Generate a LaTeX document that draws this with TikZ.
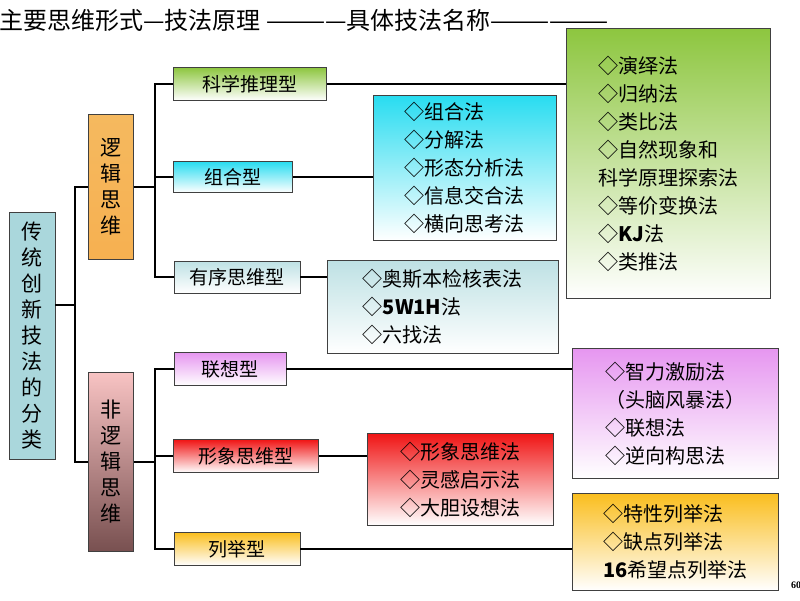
\documentclass[tikz,border=0pt]{standalone}
\usepackage{fontspec}
\setmainfont{Liberation Serif}
\newfontfamily\cjk{Noto Sans CJK SC}
\definecolor{leaf}{RGB}{141,198,63}
\definecolor{aqua}{RGB}{40,220,240}
\definecolor{mist}{RGB}{190,225,228}
\definecolor{lilac}{RGB}{230,150,240}
\definecolor{scarlet}{RGB}{240,20,20}
\definecolor{amber}{RGB}{250,190,30}
\definecolor{apricot}{RGB}{245,185,95}
\definecolor{rose}{RGB}{248,195,195}
\definecolor{mocha}{RGB}{120,80,80}
\definecolor{tealgray}{RGB}{170,215,220}
\tikzset{
  box/.style={draw=black!75, thick, inner sep=2pt, font=\cjk\fontsize{19}{24}\selectfont},
  vbox/.style={box, align=center, font=\cjk\fontsize{21}{26}\selectfont},
  list/.style={box, align=left, anchor=north west, inner sep=4pt, font=\cjk\fontsize{20}{28}\selectfont},
  conn/.style={line width=1.6pt}
}
\begin{document}
\begin{tikzpicture}[x=1pt,y=-1pt]
\useasboundingbox (0,0) rectangle (800,600);
\node[anchor=west, font=\cjk\fontsize{24}{26}\selectfont] (title) at (-4,20) {主要思维形式—技法原理 ————具体技法名称——————};
\node[font=\fontsize{10}{10}\selectfont\bfseries] (page) at (796,585) {60};
% left column
\node[vbox, fill=tealgray, minimum width=46, minimum height=247] (root) at (32,336) {传\\统\\创\\新\\技\\法\\的\\分\\类};
\node[vbox, top color=apricot, bottom color=apricot!85!orange, minimum width=45, minimum height=145] (logic) at (111,187) {逻\\辑\\思\\维};
\node[vbox, top color=rose, bottom color=mocha, minimum width=45, minimum height=179] (nonlogic) at (111,462) {非\\逻\\辑\\思\\维};
% middle column
\node[box, top color=leaf, bottom color=white, minimum width=153, minimum height=33] (sci) at (250,84) {科学推理型};
\node[box, top color=aqua, bottom color=white, minimum width=119, minimum height=31] (comb) at (233,177) {组合型};
\node[box, top color=mist, bottom color=white, minimum width=126, minimum height=32] (order) at (237,277) {有序思维型};
\node[box, top color=lilac, bottom color=white, minimum width=112, minimum height=33] (assoc) at (230,369) {联想型};
\node[box, top color=scarlet, bottom color=white, minimum width=145, minimum height=33] (image) at (246,456) {形象思维型};
\node[box, top color=amber, bottom color=white, minimum width=126, minimum height=33] (enum) at (237,549) {列举型};
% right column
\node[list, top color=leaf, bottom color=white, minimum width=204, minimum height=270] (scilist) at (566,28)
  {◇演绎法\\◇归纳法\\◇类比法\\◇自然现象和\\科学原理探索法\\◇等价变换法\\◇{\bfseries KJ}法\\◇类推法};
\node[list, top color=aqua, bottom color=white, minimum width=183, minimum height=145] (comblist) at (373,95)
  {◇组合法\\◇分解法\\◇形态分析法\\◇信息交合法\\◇横向思考法};
\node[list, top color=mist, bottom color=white, minimum width=231, minimum height=93] (orderlist) at (327,260)
  {◇奥斯本检核表法\\◇{\bfseries 5W1H}法\\◇六找法};
\node[list, top color=lilac, bottom color=white, minimum width=206, minimum height=130] (assoclist) at (572,348)
  {◇智力激励法\\（头脑风暴法）\\◇联想法\\◇逆向构思法};
\node[list, top color=scarlet, bottom color=white, minimum width=186, minimum height=92] (imagelist) at (367,433)
  {◇形象思维法\\◇灵感启示法\\◇大胆设想法};
\node[list, top color=amber, bottom color=white, minimum width=206, minimum height=97] (enumlist) at (572,493)
  {◇特性列举法\\◇缺点列举法\\{\bfseries 16}希望点列举法};
% connectors
\coordinate (trunk) at (75,305);
\coordinate (lbus) at (155,187);
\coordinate (nbus) at (155,462);
\draw[conn] (root.east |- trunk) -- (trunk);
\draw[conn] (logic.west) -| (trunk) |- (nonlogic.west);
\draw[conn] (logic.east) -- (lbus);
\draw[conn] (sci.west) -| (lbus) |- (order.west);
\draw[conn] (comb.west) -- (comb.west -| lbus);
\draw[conn] (nonlogic.east) -- (nbus);
\draw[conn] (assoc.west) -| (nbus) |- (enum.west);
\draw[conn] (image.west) -- (image.west -| nbus);
\draw[conn] (sci.east) -- (sci.east -| scilist.west);
\draw[conn] (comb.east) -- (comb.east -| comblist.west);
\draw[conn] (order.east) -- (order.east -| orderlist.west);
\draw[conn] (assoc.east) -- (assoc.east -| assoclist.west);
\draw[conn] (image.east) -- (image.east -| imagelist.west);
\draw[conn] (enum.east) -- (enum.east -| enumlist.west);
\end{tikzpicture}
\end{document}
